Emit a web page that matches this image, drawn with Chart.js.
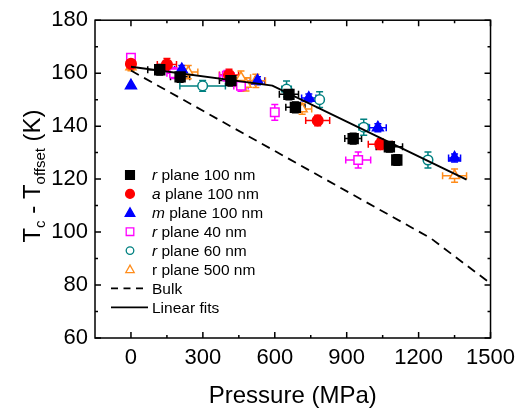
<!DOCTYPE html>
<html>
<head>
<meta charset="utf-8">
<script src="https://cdn.jsdelivr.net/npm/chart.js@4.4.1/dist/chart.umd.min.js"></script>
<style>
  html, body { margin: 0; padding: 0; background: #fff; }
  canvas { display: block; }
</style>
</head>
<body>
<canvas id="chart" width="522" height="412"></canvas>
<script>
// ---- data ----
const xTicks = [0, 300, 600, 900, 1200, 1500];
const xMinor = [150, 450, 750, 1050, 1350];
const yTicks = [60, 80, 100, 120, 140, 160, 180];
const yMinor = [70, 90, 110, 130, 150, 170];

const seriesNames = ["r plane 100 nm", "a plane 100 nm", "m plane 100 nm", "r plane 40 nm", "r plane 60 nm", "r plane 500 nm"];
const italicLead = [true, true, true, true, true, false];

// r plane 100 nm
const r100P = [120, 205, 417, 659, 686, 927, 1078, 1109];
const r100T = [161.3, 158.6, 157.2, 152.0, 147.1, 135.3, 132.2, 127.2];
const r100PErr = [50, 40, 48, 40, 40, 35, 55, 10];
const r100TErr = [2, 2, 2, 2, 2, 2, 2, 2];

// a plane 100 nm
const a100P = [0, 150, 409, 779, 1040];
const a100T = [163.5, 163.3, 159.3, 142.1, 133.2];
const a100PErr = [0, 40, 40, 50, 50];
const a100TErr = [1.5, 2.2, 2.2, 2, 2];

// m plane 100 nm
const m100P = [0, 212, 528, 742, 1030, 1350];
const m100T = [155.3, 161.4, 157.1, 150.6, 139.4, 128.0];
const m100PErr = [0, 30, 30, 30, 35, 25];
const m100TErr = [0, 1.5, 1.5, 1.5, 1.5, 1.5];

// r plane 40 nm
const r40P = [0, 180, 400, 459, 600, 948];
const r40T = [165.8, 160.0, 159.0, 155.2, 145.2, 127.2];
const r40PErr = [0, 30, 30, 30, 10, 52];
const r40TErr = [1.5, 2, 2, 2, 3, 3];

// r plane 60 nm
const r60P = [299, 649, 787, 971, 1239];
const r60T = [155.2, 154.0, 150.0, 139.6, 127.2];
const r60PErr = [95, 20, 10, 20, 10];
const r60TErr = [2, 3, 3, 3, 3];

// r plane 500 nm
const r500P = [0, 239, 459, 480, 521, 714, 1350];
const r500T = [162.4, 160.4, 158.3, 155.8, 157.1, 146.5, 121.3];
const r500PErr = [0, 40, 40, 40, 40, 40, 50];
const r500TErr = [1.5, 2.5, 2.5, 2.5, 2.5, 2, 2.5];

// linear fits and bulk curve
const fitP = [0, 590, 1400];
const fitT = [162.4, 155.3, 119.8];
const bulkP = [0, 1250, 1500];
const bulkT = [161.0, 97.7, 80.6];

const toPoints = (xs, ys) => xs.map((x, i) => ({ x: x, y: ys[i] }));

const FONT = "'Liberation Sans', Arial, sans-serif";

function markerSeries(idx, xs, ys, xe, ye, style, color, filled, radius) {
  return {
    label: seriesNames[idx],
    data: toPoints(xs, ys),
    xErr: xe,
    yErr: ye,
    showLine: false,
    pointStyle: style,
    pointRadius: radius,
    pointBorderWidth: 1.5,
    borderColor: color,
    backgroundColor: filled ? color : "#ffffff",
    pointBackgroundColor: filled ? color : "#ffffff",
    pointBorderColor: color,
  };
}

// error bars go under the markers
const errorBars = {
  id: "errorBars",
  beforeDatasetsDraw(chart) {
    const ctx = chart.ctx;
    const xs = chart.scales.x;
    const ys = chart.scales.y;
    const cap = 3.5;
    chart.data.datasets.forEach((ds) => {
      if (!ds.xErr) return;
      ctx.save();
      ctx.strokeStyle = ds.borderColor;
      ctx.lineWidth = 1.5;
      ds.data.forEach((pt, j) => {
        const px = xs.getPixelForValue(pt.x);
        const py = ys.getPixelForValue(pt.y);
        const dx = ds.xErr[j];
        const dy = ds.yErr[j];
        ctx.beginPath();
        if (dx > 0) {
          const x0 = xs.getPixelForValue(pt.x - dx);
          const x1 = xs.getPixelForValue(pt.x + dx);
          ctx.moveTo(x0, py); ctx.lineTo(x1, py);
          ctx.moveTo(x0, py - cap); ctx.lineTo(x0, py + cap);
          ctx.moveTo(x1, py - cap); ctx.lineTo(x1, py + cap);
        }
        if (dy > 0) {
          const y0 = ys.getPixelForValue(pt.y - dy);
          const y1 = ys.getPixelForValue(pt.y + dy);
          ctx.moveTo(px, y0); ctx.lineTo(px, y1);
          ctx.moveTo(px - cap, y0); ctx.lineTo(px + cap, y0);
          ctx.moveTo(px - cap, y1); ctx.lineTo(px + cap, y1);
        }
        ctx.stroke();
      });
      ctx.restore();
    });
  },
};

// frame with inward ticks on all four sides
const frame = {
  id: "frame",
  afterDatasetsDraw(chart) {
    const ctx = chart.ctx;
    const a = chart.chartArea;
    const xs = chart.scales.x;
    const ys = chart.scales.y;
    ctx.save();
    ctx.strokeStyle = "#000";
    ctx.lineWidth = 1.5;
    ctx.strokeRect(a.left, a.top, a.right - a.left, a.bottom - a.top);
    ctx.beginPath();
    const tickX = (v, len) => {
      const p = xs.getPixelForValue(v);
      ctx.moveTo(p, a.bottom); ctx.lineTo(p, a.bottom - len);
      ctx.moveTo(p, a.top); ctx.lineTo(p, a.top + len);
    };
    const tickY = (v, len) => {
      const p = ys.getPixelForValue(v);
      ctx.moveTo(a.left, p); ctx.lineTo(a.left + len, p);
      ctx.moveTo(a.right, p); ctx.lineTo(a.right - len, p);
    };
    xTicks.forEach((v) => tickX(v, 6));
    xMinor.forEach((v) => tickX(v, 3));
    yTicks.forEach((v) => tickY(v, 6));
    yMinor.forEach((v) => tickY(v, 3));
    ctx.stroke();
    ctx.restore();
  },
};

function drawMarker(ctx, style, x, y, r, color, filled) {
  ctx.save();
  ctx.strokeStyle = color;
  ctx.fillStyle = filled ? color : "#ffffff";
  ctx.lineWidth = 1.3;
  ctx.beginPath();
  if (style === "rect") {
    ctx.rect(x - r, y - r, 2 * r, 2 * r);
  } else if (style === "circle") {
    ctx.arc(x, y, r, 0, Math.PI * 2);
  } else {
    ctx.moveTo(x, y - r * 1.15);
    ctx.lineTo(x + r * 1.1, y + r * 0.8);
    ctx.lineTo(x - r * 1.1, y + r * 0.8);
    ctx.closePath();
  }
  ctx.fill();
  ctx.stroke();
  ctx.restore();
}

// legend inside the plot and the y title with subscripts
const annotations = {
  id: "annotations",
  afterDraw(chart) {
    const ctx = chart.ctx;
    const markerX = 130;
    const textX = 152;
    const rowY0 = 175;
    const rowH = 18.9;
    ctx.save();
    ctx.textBaseline = "middle";
    ctx.fillStyle = "#000";
    const markerDs = chart.data.datasets.slice(2);
    markerDs.forEach((ds, i) => {
      const y = rowY0 + i * rowH;
      const filled = ds.backgroundColor !== "#ffffff";
      drawMarker(ctx, ds.pointStyle, markerX, y, filled ? 4.4 : 3.8, ds.borderColor, filled);
      const name = seriesNames[i];
      const lead = name.charAt(0);
      const rest = name.slice(1);
      ctx.font = (italicLead[i] ? "italic " : "") + "15.5px " + FONT;
      ctx.fillText(lead, textX, y + 1);
      const w = ctx.measureText(lead).width;
      ctx.font = "15.5px " + FONT;
      ctx.fillText(rest, textX + w, y + 1);
    });
    // Bulk / Linear fits rows
    const yBulk = rowY0 + 6 * rowH;
    const yFit = rowY0 + 7 * rowH;
    ctx.strokeStyle = "#000";
    ctx.lineWidth = 1.8;
    ctx.setLineDash([7, 5.5]);
    ctx.beginPath();
    ctx.moveTo(111, yBulk); ctx.lineTo(148, yBulk);
    ctx.stroke();
    ctx.setLineDash([]);
    ctx.beginPath();
    ctx.moveTo(111, yFit); ctx.lineTo(148, yFit);
    ctx.stroke();
    ctx.font = "15.5px " + FONT;
    ctx.fillText("Bulk", textX, yBulk + 1);
    ctx.fillText("Linear fits", textX, yFit + 1);
    ctx.restore();

    // y axis title: T_c - T_offset (K)
    const parts = [
      { t: "T", size: 24, dy: 0 },
      { t: "c", size: 15, dy: 5 },
      { t: " - T", size: 24, dy: 0 },
      { t: "offset", size: 15, dy: 5 },
      { t: " (K)", size: 24, dy: 0 },
    ];
    ctx.save();
    ctx.fillStyle = "#000";
    ctx.textBaseline = "alphabetic";
    let total = 0;
    parts.forEach((p) => {
      ctx.font = p.size + "px " + FONT;
      p.w = ctx.measureText(p.t).width;
      total += p.w;
    });
    ctx.translate(31, 176);
    ctx.rotate(-Math.PI / 2);
    let x = -total / 2;
    parts.forEach((p) => {
      ctx.font = p.size + "px " + FONT;
      ctx.fillText(p.t, x, 8.5 + p.dy);
      x += p.w;
    });
    ctx.restore();
  },
};

const ctx = document.getElementById("chart").getContext("2d");

new Chart(ctx, {
  type: "scatter",
  data: {
    datasets: [
      {
        label: "Linear fits",
        data: toPoints(fitP, fitT),
        showLine: true,
        borderColor: "#000",
        borderWidth: 2,
        pointRadius: 0,
        fill: false,
        tension: 0,
      },
      {
        label: "Bulk",
        data: toPoints(bulkP, bulkT),
        showLine: true,
        borderColor: "#000",
        borderWidth: 1.8,
        borderDash: [9, 6],
        pointRadius: 0,
        fill: false,
        tension: 0,
      },
      markerSeries(0, r100P, r100T, r100PErr, r100TErr, "rect", "#000000", true, 7),
      markerSeries(1, a100P, a100T, a100PErr, a100TErr, "circle", "#ff0000", true, 5.3),
      markerSeries(2, m100P, m100T, m100PErr, m100TErr, "triangle", "#0000ff", true, 6.3),
      markerSeries(3, r40P, r40T, r40PErr, r40TErr, "rect", "#ff00ff", false, 6),
      markerSeries(4, r60P, r60T, r60PErr, r60TErr, "circle", "#008080", false, 4.8),
      markerSeries(5, r500P, r500T, r500PErr, r500TErr, "triangle", "#ff8c1a", false, 5.8),
    ],
  },
  options: {
    responsive: false,
    animation: false,
    layout: { padding: { top: 17, right: 27, bottom: 0, left: 0 } },
    plugins: {
      legend: { display: false },
      tooltip: { enabled: false },
    },
    scales: {
      x: {
        type: "linear",
        min: -150,
        max: 1500,
        afterBuildTicks: (scale) => { scale.ticks = xTicks.map((v) => ({ value: v })); },
        afterFit: (scale) => { scale.height = 74; },
        grid: { display: false, drawTicks: false },
        border: { display: false },
        ticks: {
          color: "#000",
          font: { family: FONT, size: 22 },
          padding: 7,
          maxRotation: 0,
          callback: (v) => String(v),
        },
        title: {
          display: true,
          text: "Pressure (MPa)",
          color: "#000",
          font: { family: FONT, size: 24 },
          padding: { top: 0, bottom: 1 },
        },
      },
      y: {
        type: "linear",
        min: 60,
        max: 180,
        afterBuildTicks: (scale) => { scale.ticks = yTicks.map((v) => ({ value: v })); },
        afterFit: (scale) => { scale.width = 95; },
        grid: { display: false, drawTicks: false },
        border: { display: false },
        ticks: {
          color: "#000",
          font: { family: FONT, size: 22 },
          padding: 7,
          callback: (v) => String(v),
        },
      },
    },
  },
  plugins: [errorBars, frame, annotations],
});
</script>
</body>
</html>
